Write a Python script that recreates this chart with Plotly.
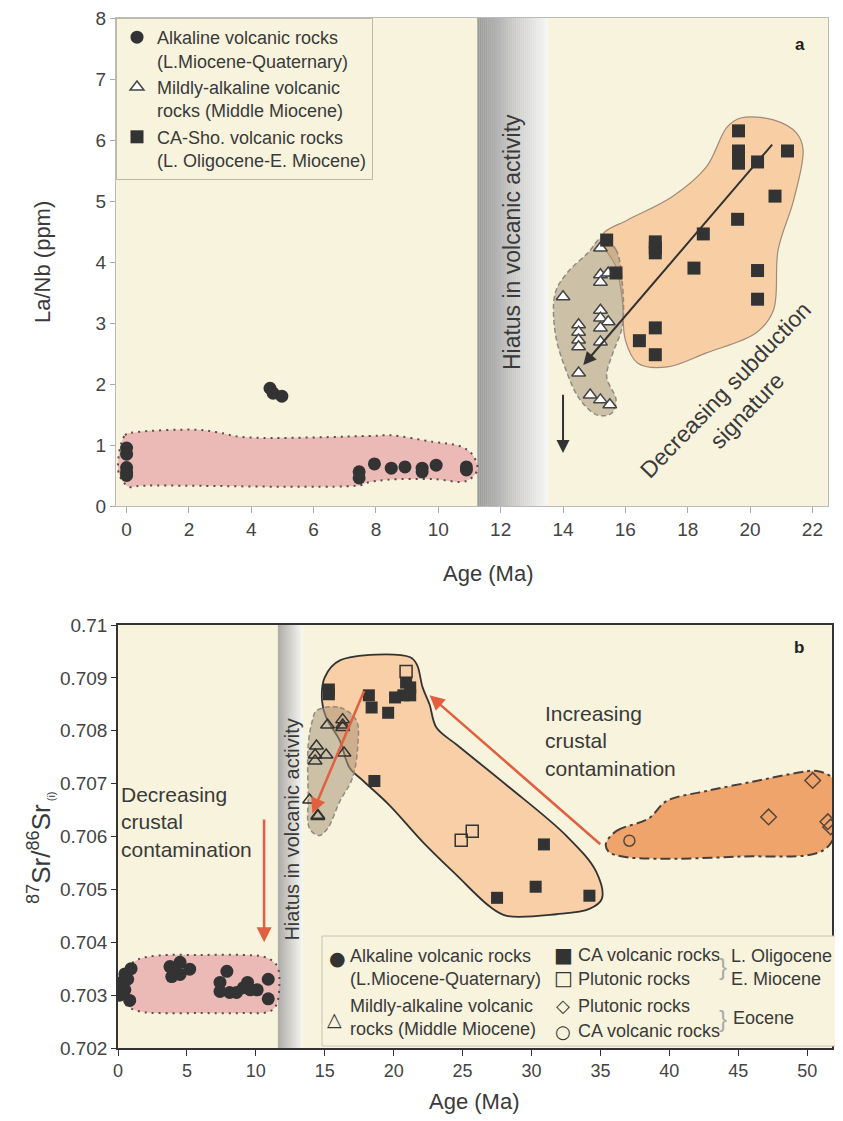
import plotly.graph_objects as go

# ---------------- Panel a: La/Nb vs Age ----------------
a_alk_age = [0.0, 0.0, 0.0, 0.0, 0.0, 4.6, 4.7, 4.98, 7.46, 7.46, 7.95, 8.49, 8.93, 9.48, 9.48, 9.93, 10.9, 10.9]
a_alk_lanb = [0.95, 0.85, 0.63, 0.55, 0.50, 1.93, 1.85, 1.80, 0.56, 0.46, 0.69, 0.62, 0.64, 0.62, 0.56, 0.67, 0.64, 0.59]

a_mild_age = [15.2, 15.2, 15.45, 15.2, 14.0, 15.2, 15.2, 15.45, 15.2, 15.2, 14.5, 14.5, 14.5, 14.5, 14.5, 14.87, 15.2, 15.5]
a_mild_lanb = [4.23, 3.79, 3.82, 3.67, 3.43, 3.21, 3.08, 3.02, 2.92, 2.69, 2.97, 2.85, 2.72, 2.61, 2.18, 1.82, 1.74, 1.66]

a_ca_age = [19.63, 19.63, 19.63, 20.24, 21.2, 20.8, 19.6, 18.5, 15.4, 16.96, 16.96, 16.96, 15.7, 18.2, 20.24, 20.24, 16.96, 16.45, 16.96]
a_ca_lanb = [6.15, 5.82, 5.62, 5.64, 5.82, 5.08, 4.70, 4.46, 4.36, 4.33, 4.23, 4.15, 3.82, 3.90, 3.86, 3.39, 2.92, 2.71, 2.48]

# field outlines (panel a)
a_alk_field_x = [-0.27, -0.05, 0.33, 2.26, 2.9, 3.74, 7.9, 8.45, 9.85, 10.7, 11.1, 11.25, 10.9, 9.85, 8.35, 7.7, 7.5, 0.43, 0.1, -0.1]
a_alk_field_y = [0.59, 1.16, 1.21, 1.25, 1.21, 1.13, 1.15, 1.16, 1.05, 0.98, 0.84, 0.59, 0.41, 0.44, 0.43, 0.38, 0.34, 0.33, 0.31, 0.39]
a_ca_field_x = [15.3, 16.07, 17.5, 18.6, 19.26, 19.7, 20.75, 21.5, 21.7, 21.4, 20.9, 20.75, 20.2, 18.6, 17.35, 16.4, 16.0, 15.9, 15.7, 15.26]
a_ca_field_y = [4.47, 4.69, 5.07, 5.56, 6.21, 6.36, 6.33, 6.11, 5.84, 5.02, 4.2, 3.21, 2.84, 2.51, 2.28, 2.34, 2.72, 3.38, 3.92, 4.31]
a_mild_field_x = [15.26, 15.7, 15.9, 15.9, 15.6, 15.4, 15.7, 15.56, 15.1, 14.55, 14.13, 13.75, 13.75, 14.13, 14.8]
a_mild_field_y = [4.40, 4.2, 3.66, 2.94, 2.51, 2.12, 1.74, 1.52, 1.49, 1.74, 2.18, 2.84, 3.49, 3.82, 4.15]

a_hiatus = [11.25, 13.52]
a_trend = [20.75, 5.95, 14.65, 2.31]     # tail x, tail y, head x, head y
a_down = [14.0, 1.85, 14.0, 0.87]
a_xticks = [0, 2, 4, 6, 8, 10, 12, 14, 16, 18, 20, 22]
a_yticks = [0, 1, 2, 3, 4, 5, 6, 7, 8]

# ---------------- Panel b: 87Sr/86Sr vs Age ----------------
b_alk_age = [0.1, 0.1, 0.3, 0.5, 0.5, 0.7, 0.85, 0.95, 0.2, 3.77, 4.5, 5.2, 3.9, 4.5, 4.1,
             7.9, 7.4, 7.4, 8.1, 8.6, 9.1, 9.4, 10.1, 9.6, 10.9, 10.9]
b_alk_sr = [0.7032, 0.7030, 0.70325, 0.7034, 0.7031, 0.7033, 0.7029, 0.7035, 0.70305, 0.70354, 0.70362, 0.70349, 0.70335, 0.70339, 0.7035,
            0.70345, 0.70324, 0.70307, 0.70305, 0.70305, 0.70314, 0.70324, 0.7031, 0.7031, 0.7033, 0.70293]

b_mild_age = [15.2, 16.3, 16.3, 16.3, 14.4, 14.3, 14.3, 15.1, 16.4, 13.9, 14.5, 14.5]
b_mild_sr = [0.70811, 0.70821, 0.70811, 0.70806, 0.70771, 0.70754, 0.70743, 0.70754, 0.70758, 0.70669, 0.70638, 0.7064]

b_ca_age = [15.3, 15.3, 18.2, 18.4, 19.6, 20.1, 20.9, 20.7, 21.2, 21.2, 18.6, 30.9, 30.3, 27.5, 34.2]
b_ca_sr = [0.70878, 0.70869, 0.70867, 0.70844, 0.70834, 0.70863, 0.70891, 0.70867, 0.70882, 0.70867, 0.70705, 0.70585, 0.70505, 0.70484, 0.70488]

b_plut_age = [24.9, 25.7, 20.9]
b_plut_sr = [0.70593, 0.7061, 0.70912]

b_eoc_plut_age = [47.2, 50.4, 51.5, 51.7]
b_eoc_plut_sr = [0.70637, 0.70706, 0.70628, 0.70618]
b_eoc_ca_age = [37.1]
b_eoc_ca_sr = [0.70592]

b_alk_field_x = [0.1, 0.65, 1.5, 3, 6, 9, 10.5, 11.2, 11.6, 11.7, 11.5, 11, 9, 6, 3, 1.8, 0.87, 0.2]
b_alk_field_y = [0.7033, 0.70352, 0.70368, 0.70375, 0.70376, 0.70376, 0.70373, 0.70365, 0.70352, 0.70316, 0.70282, 0.70269,
                 0.70266, 0.70266, 0.70266, 0.70268, 0.70276, 0.70295]
b_ca_field_x = [15.0, 16.1, 21.2, 21.7, 22.1, 22.6, 23.1, 24.6, 28.2, 32.5, 34.7, 35.1, 34.2, 31.8, 28.2, 27.0, 24.6, 22.1,
                19.7, 17.8, 16.8, 16.1, 15.1, 14.8]
b_ca_field_y = [0.70901, 0.70933, 0.70939, 0.70924, 0.70882, 0.7085, 0.70806, 0.70773, 0.70697, 0.70602, 0.70533, 0.70482,
                0.70463, 0.70453, 0.7045, 0.70467, 0.70526, 0.7059, 0.70659, 0.70705, 0.7073, 0.70781, 0.70825, 0.70857]
b_mild_field_x = [14.4, 16.1, 17.3, 17.4, 17.0, 16.1, 15.2, 14.6, 13.9, 13.8, 13.8, 14.1]
b_mild_field_y = [0.70838, 0.70844, 0.70819, 0.70773, 0.7071, 0.70667, 0.70615, 0.70602, 0.70615, 0.70678, 0.70773, 0.70819]
b_eoc_field_x = [35.4, 36.2, 38.5, 39.8, 42.7, 46.3, 49.2, 50.7, 51.8, 52.2, 52.2, 51.1, 45.1, 39.1, 36.6, 35.6]
b_eoc_field_y = [0.70587, 0.70611, 0.70634, 0.70667, 0.70686, 0.70705, 0.7072, 0.70724, 0.70711, 0.7068, 0.70615, 0.70573,
                 0.70562, 0.70558, 0.70562, 0.70571]

b_hiatus = [11.6, 13.4]
b_arrow_dec = [17.9, 0.70878, 14.1, 0.70644]
b_arrow_inc = [35.1, 0.70583, 22.6, 0.70867]
b_arrow_down = [10.6, 0.70635, 10.6, 0.70400]
b_xticks = [0, 5, 10, 15, 20, 25, 30, 35, 40, 45, 50]
b_yticks = [0.702, 0.703, 0.704, 0.705, 0.706, 0.707, 0.708, 0.709, 0.710]
b_yticklabels = ["0.702", "0.703", "0.704", "0.705", "0.706", "0.707", "0.708", "0.709", "0.71"]

# ---------------- style ----------------
W, H = 843, 1121
OFF = 8  # page body margin of the written html
FONT = "Liberation Sans, Arial, Helvetica, sans-serif"
SYMFONT = "DejaVu Sans, sans-serif"
CREAM = "#f7f3dd"
DARK = "#333333"
TXT = "#3a3a3a"
RED = "#e2603f"


def px(x):
    return (x - OFF) / W


def py(y):
    return 1 - (y - OFF) / H


fig = go.Figure()


def field(x, y, fill, lc, dash, lw, xa, ya):
    fig.add_trace(go.Scatter(
        x=x + [x[0]], y=y + [y[0]], mode="lines", fill="toself", fillcolor=fill,
        line=dict(color=lc, dash=dash, width=lw, shape="spline", smoothing=1.0),
        xaxis=xa, yaxis=ya, showlegend=False, hoverinfo="skip"))


# panel a fields
field(a_alk_field_x, a_alk_field_y, "#ecbab6", "#5a4a48", "2px,5px", 2, "x", "y")
field(a_ca_field_x, a_ca_field_y, "#f8cfa4", "#a08a78", "solid", 1.2, "x", "y")
field(a_mild_field_x, a_mild_field_y, "rgba(170,150,120,0.55)", "#8f8a84", "5px,3px", 1.5, "x", "y")

# panel a markers
fig.add_trace(go.Scatter(x=a_alk_age, y=a_alk_lanb, mode="markers", xaxis="x", yaxis="y",
                         name="Alkaline volcanic rocks<br>(L.Miocene-Quaternary)", legend="legend",
                         marker=dict(symbol="circle", size=13, color=DARK)))
fig.add_trace(go.Scatter(x=a_mild_age, y=a_mild_lanb, mode="markers", xaxis="x", yaxis="y",
                         name="Mildly-alkaline volcanic<br>rocks (Middle Miocene)", legend="legend",
                         marker=dict(symbol="triangle-up", size=12, color="white",
                                     line=dict(color="#444", width=1.5))))
fig.add_trace(go.Scatter(x=a_ca_age, y=a_ca_lanb, mode="markers", xaxis="x", yaxis="y",
                         name="CA-Sho. volcanic rocks<br>(L. Oligocene-E. Miocene)", legend="legend",
                         marker=dict(symbol="square", size=13, color=DARK)))

# panel b fields
field(b_alk_field_x, b_alk_field_y, "#ecbab6", "#5a4a48", "2px,5px", 2, "x2", "y2")
field(b_ca_field_x, b_ca_field_y, "#f8cfa6", "#333333", "solid", 1.8, "x2", "y2")
field(b_mild_field_x, b_mild_field_y, "rgba(170,150,120,0.55)", "#8f8a84", "5px,3px", 1.5, "x2", "y2")
field(b_eoc_field_x, b_eoc_field_y, "#efa46c", "#4a3f38", "10px,4px,3px,4px", 2, "x2", "y2")

# panel b markers
common = dict(mode="markers", xaxis="x2", yaxis="y2", showlegend=False)
fig.add_trace(go.Scatter(x=b_alk_age, y=b_alk_sr, marker=dict(symbol="circle", size=13, color=DARK), **common))
fig.add_trace(go.Scatter(x=b_mild_age, y=b_mild_sr,
                         marker=dict(symbol="triangle-up-open", size=12, color=DARK, line=dict(width=1.5)), **common))
fig.add_trace(go.Scatter(x=b_ca_age, y=b_ca_sr, marker=dict(symbol="square", size=12, color=DARK), **common))
fig.add_trace(go.Scatter(x=b_plut_age, y=b_plut_sr,
                         marker=dict(symbol="square-open", size=12, color=DARK, line=dict(width=1.5)), **common))
fig.add_trace(go.Scatter(x=b_eoc_plut_age, y=b_eoc_plut_sr,
                         marker=dict(symbol="diamond-open", size=12, color="#5a4638", line=dict(width=1.5)), **common))
fig.add_trace(go.Scatter(x=b_eoc_ca_age, y=b_eoc_ca_sr,
                         marker=dict(symbol="circle-open", size=11, color="#5a4638", line=dict(width=1.5)), **common))

# hiatus gradient bands
shapes = []
N = 36
for xr, yr, (x0, x1) in (("x", "y domain", a_hiatus), ("x2", "y2 domain", b_hiatus)):
    step = (x1 - x0) / N
    for i in range(N):
        t = i / (N - 1)
        g = int(155 + (246 - 155) * t)
        shapes.append(dict(type="rect", xref=xr, yref=yr, x0=x0 + i * step, x1=x0 + (i + 1) * step + step * 0.05,
                           y0=0, y1=1, fillcolor=f"rgb({g},{g},{g})", line=dict(width=0), layer="below"))

# bottom legend box
shapes.append(dict(type="rect", xref="paper", yref="paper", x0=px(322), x1=px(838), y0=py(1046), y1=py(936),
                   fillcolor=CREAM, line=dict(color="#c8c4b0", width=1), layer="above"))

ann = []


def arrow(xr, yr, v, color, w, size):
    ann.append(dict(xref=xr, yref=yr, axref=xr, ayref=yr, ax=v[0], ay=v[1], x=v[2], y=v[3], text="",
                    showarrow=True, arrowhead=2, arrowsize=size, arrowwidth=w, arrowcolor=color))


arrow("x", "y", a_trend, "#333333", 2, 1.3)
arrow("x", "y", a_down, "#333333", 2, 1.3)
arrow("x2", "y2", b_arrow_dec, RED, 2.5, 1.2)
arrow("x2", "y2", b_arrow_inc, RED, 2.5, 1.2)
arrow("x2", "y2", b_arrow_down, RED, 2.5, 1.2)


def text(xr, yr, x, y, s, size=17, angle=0, xanchor="center", align="center", color=TXT, family=FONT):
    ann.append(dict(xref=xr, yref=yr, x=x, y=y, text=s, showarrow=False, textangle=angle,
                    xanchor=xanchor, yanchor="middle", align=align, font=dict(size=size, color=color, family=family)))


# panel a texts
text("x", "y", 12.37, 4.33, "Hiatus in volcanic activity", size=23, angle=-90)
text("x", "y", 19.56, 1.74, "Decreasing subduction<br>signature", size=23, angle=-46)
text("x", "y", 21.6, 7.56, "<b>a</b>", size=17, color="#222")
text("paper", "paper", px(488), py(573), "Age (Ma)", size=22)
text("paper", "paper", px(42), py(262), "La/Nb (ppm)", size=22, angle=-90)

# panel b texts
text("x2", "y2", 12.6, 0.706124, "Hiatus in volcanic activity", size=20, angle=-90)
text("x2", "y2", 0.1, 0.706267, "Decreasing<br>crustal<br>contamination", size=21, xanchor="left", align="left")
text("x2", "y2", 30.8, 0.70781, "Increasing<br>crustal<br>contamination", size=21, xanchor="left", align="left")
text("x2", "y2", 49.4, 0.70958, "<b>b</b>", size=17, color="#222")
text("paper", "paper", px(474), py(1101), "Age (Ma)", size=22)
text("paper", "paper", px(40), py(848),
     "<sup>87</sup>Sr/<sup>86</sup>Sr<sub><span style='font-size:11px'> (i)</span></sub>", size=26, angle=-90)

# panel b manual legend
LF = 18
text("paper", "paper", px(337), py(958), "●", size=19, color=DARK, family=SYMFONT)
text("paper", "paper", px(348), py(967), "Alkaline volcanic rocks<br>(L.Miocene-Quaternary)", size=LF, xanchor="left", align="left")
text("paper", "paper", px(334), py(1019), "△", size=19, color=DARK, family=SYMFONT)
text("paper", "paper", px(348), py(1017), "Mildly-alkaline volcanic<br>rocks (Middle Miocene)", size=LF, xanchor="left", align="left")
text("paper", "paper", px(563), py(955), "■", size=20, color=DARK, family=SYMFONT)
text("paper", "paper", px(576), py(955), "CA volcanic rocks", size=LF, xanchor="left")
text("paper", "paper", px(563), py(978), "□", size=20, color=DARK, family=SYMFONT)
text("paper", "paper", px(576), py(979), "Plutonic rocks", size=LF, xanchor="left")
text("paper", "paper", px(563), py(1005), "◇", size=18, color=DARK, family=SYMFONT)
text("paper", "paper", px(576), py(1006), "Plutonic rocks", size=LF, xanchor="left")
text("paper", "paper", px(563), py(1031), "○", size=18, color=DARK, family=SYMFONT)
text("paper", "paper", px(576), py(1031), "CA volcanic rocks", size=LF, xanchor="left")
text("paper", "paper", px(723), py(966), "}", size=24, color="#aaa")
text("paper", "paper", px(729), py(967), "L. Oligocene<br>E. Miocene", size=LF, xanchor="left", align="left")
text("paper", "paper", px(723), py(1018), "}", size=24, color="#aaa")
text("paper", "paper", px(731), py(1018), "Eocene", size=LF, xanchor="left")

tickfont_a = dict(size=19, color="#444", family=FONT)
tickfont_b = dict(size=18, color="#444", family=FONT)

fig.update_layout(
    width=W, height=H, template="none",
    paper_bgcolor="white", plot_bgcolor=CREAM,
    margin=dict(l=0, r=0, t=0, b=0),
    font=dict(family=FONT, color=TXT),
    shapes=shapes, annotations=ann,
    xaxis=dict(domain=[px(116), px(828)], range=[-0.34, 22.5], tickvals=a_xticks, ticks="outside", ticklen=6,
               tickcolor="#aaa", showline=True, linecolor="#bbb", linewidth=1, mirror=True, showgrid=False,
               zeroline=False, tickfont=tickfont_a, automargin=False, anchor="y"),
    yaxis=dict(domain=[py(506), py(18)], range=[0, 8], tickvals=a_yticks, ticks="outside", ticklen=5,
               tickcolor="#aaa", showline=True, linecolor="#bbb", linewidth=1, mirror=True, showgrid=False,
               zeroline=False, tickfont=tickfont_a, automargin=False, anchor="x", ticklabeloverflow="allow"),
    xaxis2=dict(domain=[px(118), px(832)], range=[0, 51.8], tickvals=b_xticks, ticks="outside", ticklen=6,
                tickcolor=DARK, showline=True, linecolor=DARK, linewidth=1.5, mirror=True, showgrid=False,
                zeroline=False, tickfont=tickfont_b, automargin=False, anchor="y2"),
    yaxis2=dict(domain=[py(1048), py(625)], range=[0.702, 0.710], tickvals=b_yticks, ticktext=b_yticklabels,
                ticks="outside", ticklen=5, tickcolor=DARK, showline=True, linecolor=DARK, linewidth=1.5,
                mirror=True, showgrid=False, zeroline=False, tickfont=dict(size=19, color="#444", family=FONT),
                automargin=False, anchor="x2"),
    legend=dict(x=px(116), y=py(18), xanchor="left", yanchor="top", bgcolor=CREAM, bordercolor="#bdb9a5",
                borderwidth=1, font=dict(size=18, color=TXT, family=FONT), valign="top", tracegroupgap=6),
    showlegend=True,
)

fig.write_html("out.html")
